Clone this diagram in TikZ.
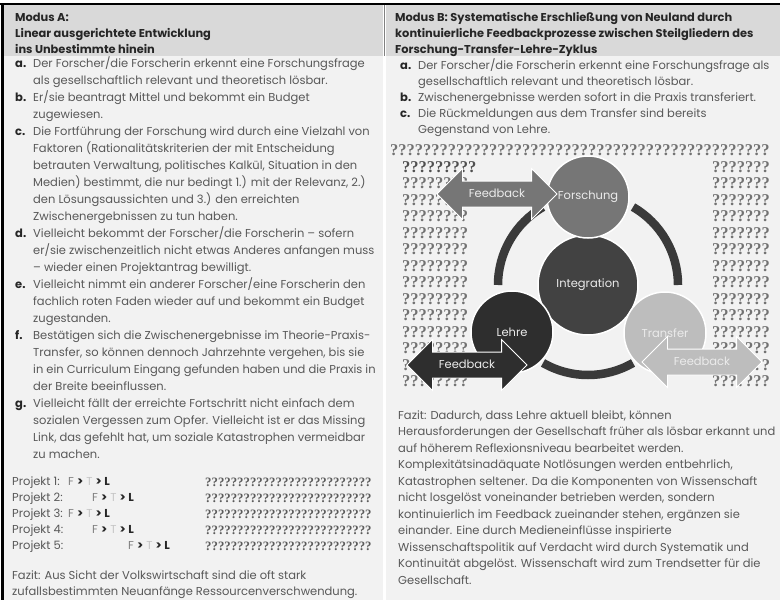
\documentclass[tikz,border=0pt]{standalone}
\usepackage{fontspec}
\setmainfont{Poppins}
\newfontfamily\qfont{Liberation Serif}
\usetikzlibrary{shapes.arrows}

\definecolor{headgray}{HTML}{D9D9D9}
\definecolor{cellgray}{HTML}{F2F2F2}
\definecolor{txt}{HTML}{585858}
\definecolor{headtxt}{HTML}{262626}
\definecolor{qgray}{HTML}{727272}
\definecolor{ringgray}{HTML}{3A3A3A}
\definecolor{forschgray}{HTML}{767676}
\definecolor{integgray}{HTML}{424242}
\definecolor{lehregray}{HTML}{2E2E2E}
\definecolor{transgray}{HTML}{BDBDBD}

\tikzset{
  txtblock/.style={inner sep=0pt, anchor=base west, text=txt,
    font=\fontsize{11.5}{17}\selectfont},
  headblock/.style={inner sep=0pt, anchor=base west, text=headtxt,
    font=\bfseries\fontsize{11.4}{16}\selectfont},
  qrow/.style={inner sep=0pt, anchor=base west, text=qgray,
    font=\qfont\bfseries\fontsize{16.5}{16.5}\selectfont},
  phase/.style={circle, draw=white, line width=1.5pt, text=white!92!black,
    inner sep=0pt, font=\fontsize{11.5}{13}\selectfont},
  feedback/.style={double arrow, double arrow head extend=12.5pt,
    minimum height=120pt, inner xsep=0pt, inner ysep=8.5pt,
    text height=7pt, text depth=1pt, draw=white, line width=0.8pt,
    text=white!92!black, font=\fontsize{11.5}{13}\selectfont},
  ring/.style={draw=ringgray, line width=8.5pt}
}
\newcommand{\lab}[1]{\textbf{\color{headtxt}#1}}

\begin{document}
\begin{tikzpicture}[x=1pt,y=-1pt]
\useasboundingbox (0,0) rectangle (780,600);
\fill[white] (0,0) rectangle (780,600);
\fill[cellgray] (4,56) rectangle (383,600);
\fill[cellgray] (386,56) rectangle (780,600);
\fill[headgray] (4,5) rectangle (383,56);
\fill[headgray] (386,5) rectangle (780,56);
\draw[black, line width=2pt] (0,3.5) -- (780,3.5);
\draw[black, line width=3pt] (2.5,3) -- (2.5,600);
\draw[gray, line width=0.8pt] (384.5,5) -- (384.5,56);

\node[headblock] (headA) at (15,21) {\begin{tabular}[t]{@{}l@{}}
Modus A:\\
Linear ausgerichtete Entwicklung\\
ins Unbestimmte hinein
\end{tabular}};

\node[txtblock] (listA) at (15,67) {\begin{tabular}[t]{@{}p{18pt}@{}l@{}}
\lab{a.} & Der Forscher/die Forscherin erkennt eine Forschungsfrage\\
 & als gesellschaftlich relevant und theoretisch lösbar.\\
\lab{b.} & Er/sie beantragt Mittel und bekommt ein Budget\\
 & zugewiesen.\\
\lab{c.} & Die Fortführung der Forschung wird durch eine Vielzahl von\\
 & Faktoren (Rationalitätskriterien der mit Entscheidung\\
 & betrauten Verwaltung, politisches Kalkül, Situation in den\\
 & Medien) bestimmt, die nur bedingt 1.) mit der Relevanz, 2.)\\
 & den Lösungsaussichten und 3.) den erreichten\\
 & Zwischenergebnissen zu tun haben.\\
\lab{d.} & Vielleicht bekommt der Forscher/die Forscherin – sofern\\
 & er/sie zwischenzeitlich nicht etwas Anderes anfangen muss\\
 & – wieder einen Projektantrag bewilligt.\\
\lab{e.} & Vielleicht nimmt ein anderer Forscher/eine Forscherin den\\
 & fachlich roten Faden wieder auf und bekommt ein Budget\\
 & zugestanden.\\
\lab{f.} & Bestätigen sich die Zwischenergebnisse im Theorie-Praxis-\\
 & Transfer, so können dennoch Jahrzehnte vergehen, bis sie\\
 & in ein Curriculum Eingang gefunden haben und die Praxis in\\
 & der Breite beeinflussen.\\
\lab{g.} & Vielleicht fällt der erreichte Fortschritt nicht einfach dem\\
 & sozialen Vergessen zum Opfer. Vielleicht ist er das Missing\\
 & Link, das gefehlt hat, um soziale Katastrophen vermeidbar\\
 & zu machen.
\end{tabular}};

\foreach \n/\fx [count=\k from 0] in {1/68,2/92,3/68,4/92,5/128}{
  \node[txtblock] (proj\n) at (12,485+16*\k) {Projekt \n:};
  \node[txtblock] (ftl\n) at (\fx,485+16*\k) {{\color{gray}F}
    \textbf{\color{headtxt}>} {\color{gray!45}T} \textbf{\color{headtxt}> L}};
  \node[qrow, text=qgray!80!black, font=\qfont\bfseries\fontsize{12.8}{12.8}\selectfont]
    (qproj\n) at (205,486+16*\k) {??????????????????????????};
}

\node[txtblock, font=\fontsize{11.5}{16}\selectfont] (fazitA) at (12,579) {\begin{tabular}[t]{@{}l@{}}
Fazit: Aus Sicht der Volkswirtschaft sind die oft stark\\
zufallsbestimmten Neuanfänge Ressourcenverschwendung.
\end{tabular}};

\node[headblock] (headB) at (395,21) {\begin{tabular}[t]{@{}l@{}}
Modus B: Systematische Erschließung von Neuland durch\\
kontinuierliche Feedbackprozesse zwischen Steilgliedern des\\
Forschung-Transfer-Lehre-Zyklus
\end{tabular}};

\node[txtblock, font=\fontsize{11.5}{16}\selectfont] (listB) at (400,69) {\begin{tabular}[t]{@{}p{18pt}@{}l@{}}
\lab{a.} & Der Forscher/die Forscherin erkennt eine Forschungsfrage als\\
 & gesellschaftlich relevant und theoretisch lösbar.\\
\lab{b.} & Zwischenergebnisse werden sofort in die Praxis transferiert.\\
\lab{c.} & Die Rückmeldungen aus dem Transfer sind bereits\\
 & Gegenstand von Lehre.
\end{tabular}};

\node[qrow] (qtop) at (390,155.5) {??????????????????????????????????????????????};
\node[qrow, text=qgray!70!black] (qleft0) at (402,172) {?????????};
\foreach \k/\q in {2/????????,3/????????,4/????????,5/????????,6/????????,
    7/????????,8/????????,9/????????,10/????????,11/????????,12/????????,
    13/?,14/????????}{
  \node[qrow] (qleft\k) at (402,155.5+16.5*\k) {\q};
}
\foreach \k/\x/\q in {1/712/???????,2/712/???????,3/712/???????,4/712/???????,
    5/712/???????,6/712/???????,7/712/???????,8/712/???????,9/712/???????,
    10/712/???????,11/712/???????,12/712/???????,13/753.5/??,14/712/???????}{
  \node[qrow] (qright\k) at (\x,155.5+16.5*\k) {\q};
}

\coordinate (hub) at (588,285);
\draw[ring] (hub) ++(300:90) arc[start angle=300, end angle=360, radius=90];
\draw[ring] (hub) ++(60:90) arc[start angle=60, end angle=120, radius=90];
\draw[ring] (hub) ++(180:90) arc[start angle=180, end angle=240, radius=90];

\node[phase, fill=integgray, minimum size=100pt] (integration) at (hub) {Integration};
\node[phase, fill=forschgray, minimum size=82pt] (forschung) at (588,197) {Forschung};
\node[phase, fill=lehregray, minimum size=82pt] (lehre) at (512,332) {Lehre};
\node[phase, fill=transgray, minimum size=82pt] (transfer) at (665,333) {Transfer};

\node[feedback, fill=forschgray] (fbF) at (497,194) {Feedback};
\node[feedback, fill=lehregray] (fbL) at (467,365) {Feedback};
\node[feedback, fill=transgray] (fbT) at (702,362) {Feedback};

\node[txtblock, font=\fontsize{11.5}{16.5}\selectfont] (fazitB) at (398,419) {\begin{tabular}[t]{@{}l@{}}
Fazit: Dadurch, dass Lehre aktuell bleibt, können\\
Herausforderungen der Gesellschaft früher als lösbar erkannt und\\
auf höherem Reflexionsniveau bearbeitet werden.\\
Komplexitätsinadäquate Notlösungen werden entbehrlich,\\
Katastrophen seltener. Da die Komponenten von Wissenschaft\\
nicht losgelöst voneinander betrieben werden, sondern\\
kontinuierlich im Feedback zueinander stehen, ergänzen sie\\
einander. Eine durch Medieneinflüsse inspirierte\\
Wissenschaftspolitik auf Verdacht wird durch Systematik und\\
Kontinuität abgelöst. Wissenschaft wird zum Trendsetter für die\\
Gesellschaft.
\end{tabular}};
\end{tikzpicture}
\end{document}
